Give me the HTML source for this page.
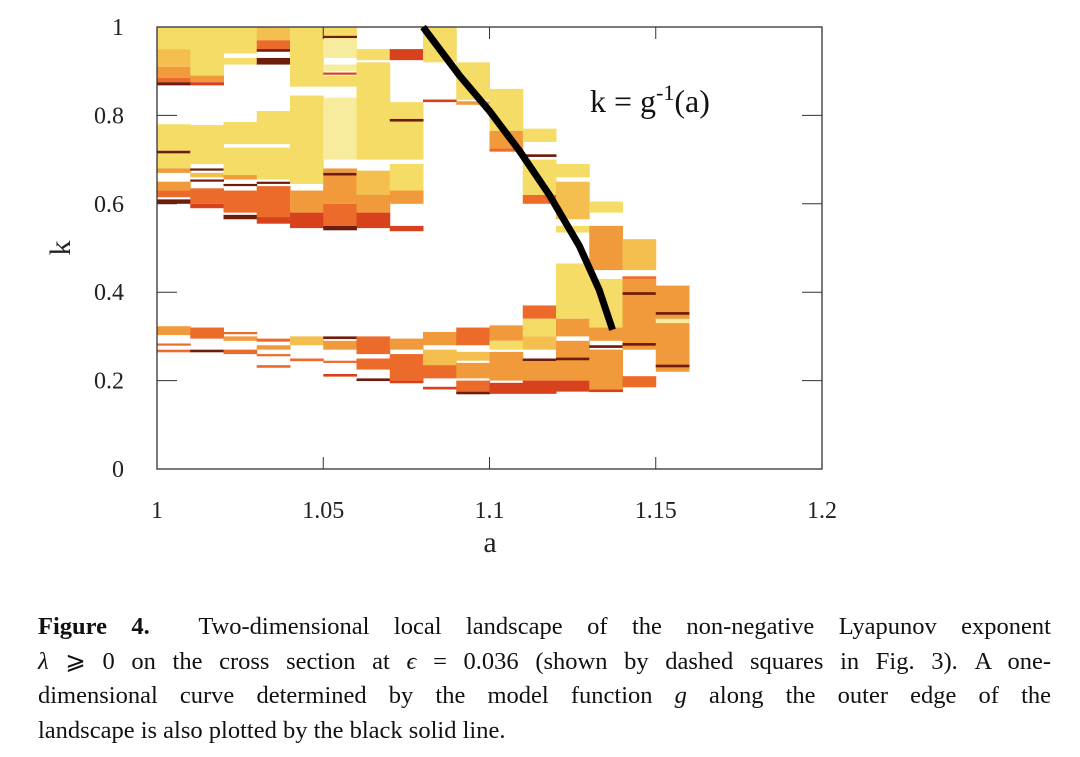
<!DOCTYPE html>
<html><head><meta charset="utf-8"><style>
body{margin:0;background:#fff;width:1080px;height:757px;overflow:hidden;font-family:"Liberation Serif",serif;}
#cap{position:absolute;left:38px;top:610px;width:1013px;font-size:24.5px;line-height:34.5px;color:#111;}
.ln{text-align:justify;text-align-last:justify;white-space:nowrap;}
.ln.last{text-align-last:left;}
</style></head><body>
<svg id="chart" width="1080" height="600" style="position:absolute;left:0;top:0" font-family="Liberation Serif, serif"></svg>
<div id="cap">
<div class="ln"><b>Figure 4.</b>&nbsp; Two-dimensional local landscape of the non-negative Lyapunov exponent</div>
<div class="ln"><i>λ</i> ⩾ 0 on the cross section at <i>ϵ</i> = 0.036 (shown by dashed squares in Fig. 3). A one-</div>
<div class="ln">dimensional curve determined by the model function <i>g</i> along the outer edge of the</div>
<div class="ln last">landscape is also plotted by the black solid line.</div>
</div>
<script>
const colStarts=[1.00,1.01,1.02,1.03,1.04,1.05,1.06,1.07,1.08,1.09,1.10,1.11,1.12,1.13,1.14,1.15];
const colStripes=[
 [[1,0.95,1],[0.95,0.91,2],[0.91,0.885,3],[0.885,0.875,4],[0.875,0.868,6],[0.78,0.72,1],[0.72,0.714,6],[0.714,0.68,1],[0.68,0.67,3],[0.65,0.63,3],[0.63,0.615,4],[0.61,0.60,6],[0.323,0.303,3],[0.284,0.279,4],[0.27,0.264,4]],
 [[1,0.89,1],[0.89,0.875,3],[0.875,0.868,5],[0.778,0.69,1],[0.68,0.675,6],[0.67,0.66,2],[0.655,0.65,6],[0.635,0.60,4],[0.60,0.59,5],[0.32,0.295,4],[0.27,0.264,6]],
 [[1,0.94,1],[0.93,0.915,1],[0.785,0.735,1],[0.727,0.665,1],[0.665,0.655,3],[0.645,0.64,6],[0.63,0.58,4],[0.575,0.565,6],[0.31,0.305,4],[0.3,0.29,3],[0.27,0.26,4]],
 [[1,0.97,2],[0.97,0.95,4],[0.95,0.944,6],[0.93,0.915,6],[0.81,0.735,1],[0.727,0.655,1],[0.65,0.645,6],[0.64,0.57,4],[0.57,0.555,5],[0.295,0.288,4],[0.28,0.27,3],[0.26,0.255,4],[0.235,0.229,4]],
 [[1,0.865,1],[0.845,0.645,1],[0.63,0.58,3],[0.58,0.545,5],[0.3,0.28,2],[0.25,0.244,4]],
 [[1,0.975,1],[0.98,0.974,6],[0.975,0.93,0],[0.915,0.9,0],[0.897,0.892,5],[0.89,0.865,1],[0.84,0.7,0],[0.68,0.67,3],[0.67,0.664,6],[0.664,0.6,3],[0.6,0.55,4],[0.55,0.54,6],[0.3,0.294,6],[0.29,0.27,3],[0.245,0.24,4],[0.215,0.209,5]],
 [[0.95,0.925,1],[0.92,0.7,1],[0.675,0.62,2],[0.62,0.58,3],[0.58,0.545,5],[0.3,0.26,4],[0.25,0.225,4],[0.205,0.199,6]],
 [[0.95,0.925,5],[0.83,0.7,1],[0.792,0.786,6],[0.69,0.63,1],[0.63,0.6,3],[0.55,0.538,5],[0.295,0.27,3],[0.26,0.2,4],[0.2,0.194,5]],
 [[1,0.92,1],[0.836,0.83,5],[0.31,0.28,3],[0.27,0.235,2],[0.235,0.205,4],[0.186,0.18,5]],
 [[0.92,0.835,1],[0.832,0.824,3],[0.32,0.28,4],[0.265,0.245,2],[0.24,0.205,3],[0.2,0.175,4],[0.175,0.169,6]],
 [[0.86,0.765,1],[0.765,0.725,3],[0.725,0.718,4],[0.325,0.29,3],[0.29,0.27,1],[0.265,0.2,3],[0.195,0.17,5]],
 [[0.77,0.74,1],[0.712,0.706,6],[0.7,0.62,1],[0.62,0.6,4],[0.37,0.34,4],[0.34,0.3,1],[0.3,0.27,2],[0.25,0.244,6],[0.244,0.2,3],[0.2,0.17,5]],
 [[0.69,0.66,1],[0.65,0.565,2],[0.55,0.535,1],[0.465,0.34,1],[0.34,0.3,3],[0.29,0.2,3],[0.252,0.246,6],[0.2,0.175,5]],
 [[0.605,0.58,1],[0.55,0.45,3],[0.43,0.32,1],[0.32,0.29,3],[0.28,0.274,6],[0.27,0.18,3],[0.18,0.174,5]],
 [[0.52,0.45,2],[0.436,0.43,4],[0.43,0.27,3],[0.4,0.394,6],[0.285,0.279,6],[0.21,0.185,4]],
 [[0.415,0.22,3],[0.355,0.349,6],[0.34,0.33,0],[0.236,0.23,6]]
];
const levelColors=["#f7eb9e","#f4dc66","#f4bf4e","#f19a3b","#ec6a2a","#d7421d","#6e1c0c"];
const curveA=[1.08,1.091,1.1,1.109,1.118,1.127,1.133,1.137];
const curveK=[1.0,0.89,0.81,0.72,0.62,0.505,0.405,0.315];
const xTicks=[1,1.05,1.1,1.15,1.2];
const xTickLabels=["1","1.05","1.1","1.15","1.2"];
const yTicks=[0,0.2,0.4,0.6,0.8,1];
const yTickLabels=["0","0.2","0.4","0.6","0.8","1"];
const X0=157,X1=822,Y0=469,Y1=27;
const xs=a=>X0+(a-1)/0.2*(X1-X0);
const ys=k=>Y0-k*(Y0-Y1);
const svg=document.getElementById('chart');
const NS="http://www.w3.org/2000/svg";
function mk(t,at){const e=document.createElementNS(NS,t);for(const k in at)e.setAttribute(k,at[k]);svg.appendChild(e);return e;}
colStarts.forEach((a,i)=>{
 colStripes[i].forEach(s=>{
  const r=mk('rect',{x:xs(a),y:ys(s[0]),width:xs(a+0.01)-xs(a)+0.5,height:Math.max(ys(s[1])-ys(s[0]),2),fill:levelColors[s[2]]});
  
  
 });
});
const fr=mk('rect',{x:X0,y:Y1,width:X1-X0,height:Y0-Y1,fill:'none',stroke:'#333','stroke-width':1.3});


xTicks.forEach((v,i)=>{
 const x=xs(v);
 if(i>0&&i<xTicks.length-1){mk('line',{x1:x,x2:x,y1:Y0,y2:Y0-12,stroke:'#333'});mk('line',{x1:x,x2:x,y1:Y1,y2:Y1+12,stroke:'#333'});}
 const t=mk('text',{x:x,y:518,'text-anchor':'middle','font-size':24,fill:'#222'});t.textContent=xTickLabels[i];
 
 
});
yTicks.forEach((v,i)=>{
 const y=ys(v);
 if(i>0&&i<yTicks.length-1){mk('line',{x1:X0,x2:X0+20,y1:y,y2:y,stroke:'#333'});mk('line',{x1:X1,x2:X1-20,y1:y,y2:y,stroke:'#333'});}
 const t=mk('text',{x:124,y:y+8,'text-anchor':'end','font-size':24,fill:'#222'});t.textContent=yTickLabels[i];
 
 
});
const pts=curveA.map((a,i)=>xs(a)+','+ys(curveK[i])).join(' ');
const pl=mk('polyline',{points:pts,fill:'none',stroke:'#000','stroke-width':7,'stroke-linejoin':'round'});


const xl=mk('text',{x:490,y:552,'text-anchor':'middle','font-size':30,fill:'#222'});xl.textContent='a';


const yl=mk('text',{x:0,y:0,'text-anchor':'middle','font-size':30,fill:'#222',transform:'translate(70,248) rotate(-90)'});yl.textContent='k';


const an=mk('text',{x:590,y:112,'font-size':32,fill:'#111'});
an.innerHTML='k = g<tspan dy="-12" font-size="22">-1</tspan><tspan dy="12">(a)</tspan>';


</script>
</body></html>
